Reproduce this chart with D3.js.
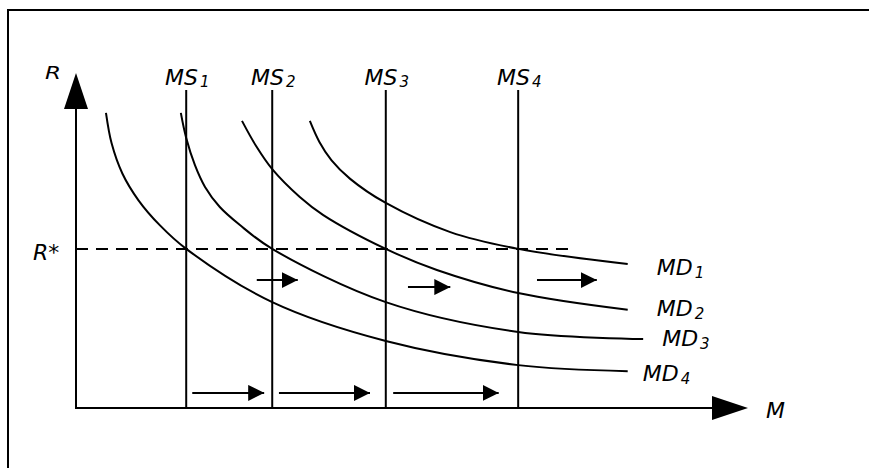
<!DOCTYPE html>
<meta charset="utf-8">
<style>
html, body { margin: 0; background: #fff; overflow: hidden; }
svg { display: block; }
text { font-family: "DejaVu Sans", Verdana, sans-serif; font-style: italic; fill: #000; }
</style>
<body>
<svg width="869" height="468"></svg>
<script src="https://d3js.org/d3.v7.min.js"></script>
<script>

// money supply lines (M position)
var supplyNames = ["1", "2", "3", "4"];
var supplyX = [16.4, 29.2, 46.1, 65.8];
var supplyTop = 94.9;

// equilibrium rate
var rStar = 47.5;
var rStarEnd = 73.5;

// money demand curves
var md1 = [[34.8, 85.7], [36.2, 79.5], [38.0, 74.0], [40.8, 68.4], [46.1, 61.2], [55.7, 52.5], [65.8, 47.5], [82.1, 43.0]];
var md2 = [[24.7, 85.7], [26.8, 78.2], [29.2, 71.3], [33.3, 63.0], [36.8, 57.6], [46.1, 47.5], [53.7, 41.2], [65.8, 34.3], [82.1, 29.3]];
var md3 = [[15.6, 88.1], [16.4, 80.6], [17.7, 72.5], [19.2, 66.0], [21.4, 60.0], [24.4, 54.6], [29.2, 47.5], [46.1, 31.6], [65.8, 22.7], [84.4, 20.6]];
var md4 = [[4.46, 88.1], [5.3, 79.0], [6.9, 70.0], [9.3, 62.0], [12.5, 54.5], [16.4, 47.5], [29.2, 31.6], [46.1, 20.0], [65.8, 12.8], [82.1, 11.0]];
var demandNames = ["1", "2", "3", "4"];

// shift arrows: [x0, x1, y]
var upperArrows = [[26.9, 33.0, 38.2], [49.4, 55.7, 36.1], [68.6, 77.5, 38.2]];
var lowerArrows = [[17.3, 28.0, 4.5], [30.2, 43.75, 4.5], [47.2, 62.9, 4.5]];

var svg = d3.select("svg");

var x = d3.scaleLinear().domain([0, 100]).range([76, 748]);
var y = d3.scaleLinear().domain([0, 100]).range([408, 73]);

svg.append("rect").attr("width", 869).attr("height", 468).attr("fill", "#fff");

// frame (only top and left edges are visible)
svg.append("line")
    .attr("x1", 8).attr("y1", 10).attr("x2", 869).attr("y2", 10)
    .attr("stroke", "#000").attr("stroke-width", 2);
svg.append("line")
    .attr("x1", 8).attr("y1", 9).attr("x2", 8).attr("y2", 468)
    .attr("stroke", "#000").attr("stroke-width", 2);

var defs = svg.append("defs");
defs.append("marker")
    .attr("id", "head")
    .attr("viewBox", "0 0 16 16")
    .attr("refX", 16).attr("refY", 8)
    .attr("markerWidth", 16).attr("markerHeight", 16)
    .attr("markerUnits", "userSpaceOnUse")
    .attr("orient", "auto")
  .append("path")
    .attr("d", "M0,0L16,8L0,16Z")
    .attr("fill", "#000");

// axes
svg.append("line")
    .attr("x1", x(0)).attr("y1", y(0))
    .attr("x2", x(0)).attr("y2", y(100) + 36)
    .attr("stroke", "#000").attr("stroke-width", 2);
svg.append("path")
    .attr("d", "M" + x(0) + "," + y(100) + "L" + (x(0) + 12) + "," + (y(100) + 36) + "L" + (x(0) - 12) + "," + (y(100) + 36) + "Z")
    .attr("fill", "#000");

svg.append("line")
    .attr("x1", x(0) - 1).attr("y1", y(0))
    .attr("x2", x(100) - 36).attr("y2", y(0))
    .attr("stroke", "#000").attr("stroke-width", 2);
svg.append("path")
    .attr("d", "M" + x(100) + "," + y(0) + "L" + (x(100) - 36) + "," + (y(0) - 12) + "L" + (x(100) - 36) + "," + (y(0) + 12) + "Z")
    .attr("fill", "#000");

// R* dashed line
svg.append("line")
    .attr("x1", x(0)).attr("y1", y(rStar))
    .attr("x2", x(rStarEnd)).attr("y2", y(rStar))
    .attr("stroke", "#000").attr("stroke-width", 2)
    .attr("stroke-dasharray", "12,8");

// MS lines
svg.selectAll(".ms")
    .data(supplyX)
  .enter().append("line")
    .attr("class", "ms")
    .attr("x1", function(d) { return x(d); })
    .attr("x2", function(d) { return x(d); })
    .attr("y1", y(supplyTop))
    .attr("y2", y(0))
    .attr("stroke", "#000").attr("stroke-width", 2);

svg.selectAll(".mslabel")
    .data(supplyX)
  .enter().append("text")
    .attr("class", "mslabel")
    .attr("x", function(d) { return x(d) + 1; })
    .attr("y", 85)
    .attr("text-anchor", "middle")
    .style("font-size", "22px")
    .each(function(d, i) {
      var t = d3.select(this);
      t.append("tspan").text("MS");
      t.append("tspan").attr("dx", 2).attr("dy", 2).style("font-size", "15px").text(supplyNames[i]);
    });

// MD curves
var line = d3.line()
    .x(function(d) { return x(d[0]); })
    .y(function(d) { return y(d[1]); })
    .curve(d3.curveCatmullRom.alpha(0.5));

var demand = [md1, md2, md3, md4];
svg.selectAll(".md")
    .data(demand)
  .enter().append("path")
    .attr("class", "md")
    .attr("d", line)
    .attr("fill", "none")
    .attr("stroke", "#000")
    .attr("stroke-width", 2);

// label offsets from each curve's end point
var mdOffsets = [[29, 11], [29, 6], [19, 7], [15, 10]];
svg.selectAll(".mdlabel")
    .data(demand)
  .enter().append("text")
    .attr("class", "mdlabel")
    .attr("x", function(d, i) { return x(d[d.length - 1][0]) + mdOffsets[i][0]; })
    .attr("y", function(d, i) { return y(d[d.length - 1][1]) + mdOffsets[i][1]; })
    .style("font-size", "22px")
    .each(function(d, i) {
      var t = d3.select(this);
      t.append("tspan").text("MD");
      t.append("tspan").attr("dx", 2).attr("dy", 3).style("font-size", "15px").text(demandNames[i]);
    });

// shift arrows
svg.selectAll(".shift")
    .data(upperArrows.concat(lowerArrows))
  .enter().append("line")
    .attr("class", "shift")
    .attr("x1", function(d) { return x(d[0]); })
    .attr("x2", function(d) { return x(d[1]); })
    .attr("y1", function(d) { return y(d[2]); })
    .attr("y2", function(d) { return y(d[2]); })
    .attr("stroke", "#000").attr("stroke-width", 2)
    .attr("marker-end", "url(#head)");

// axis labels
svg.append("text")
    .attr("x", 45).attr("y", 79)
    .attr("textLength", 16).attr("lengthAdjust", "spacingAndGlyphs")
    .style("font-size", "18px")
    .text("R");

svg.append("text")
    .attr("x", 33).attr("y", y(rStar) + 11)
    .style("font-size", "22px")
    .text("R*");

svg.append("text")
    .attr("x", 766).attr("y", 418)
    .style("font-size", "22px")
    .text("M");

</script>
</body>
